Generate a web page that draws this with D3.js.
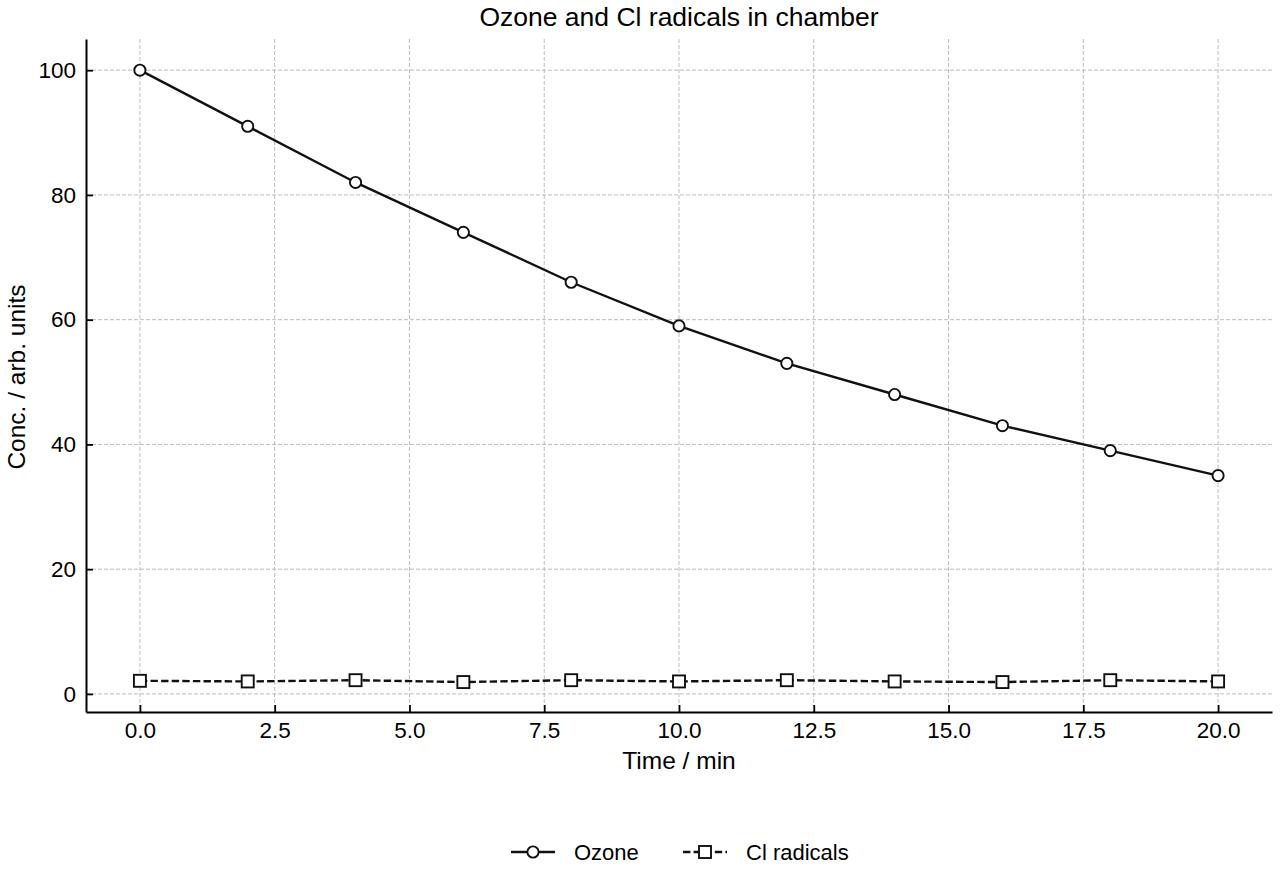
<!DOCTYPE html>
<html>
<head>
<meta charset="utf-8">
<script src="https://cdn.jsdelivr.net/npm/d3@7"></script>
<style>
  body { margin: 0; background: #fff; }
  svg text { font-family: "Liberation Sans", Arial, sans-serif; fill: #000; }
</style>
</head>
<body>
<div id="chart"></div>
<script>
// Data
const times = [0, 2, 4, 6, 8, 10, 12, 14, 16, 18, 20];
const ozone = [100, 91, 82, 74, 66, 59, 53, 48, 43, 39, 35];
const clRadicals = [2.1, 2.0, 2.2, 1.9, 2.2, 2.0, 2.2, 2.0, 1.9, 2.2, 2.0];
const xTicks = [0, 2.5, 5, 7.5, 10, 12.5, 15, 17.5, 20];
const yTicks = [0, 20, 40, 60, 80, 100];

const W = 1280, H = 880;
const margin = { top: 39, right: 8, bottom: 168, left: 86 };
const width = W - margin.left - margin.right;
const height = H - margin.top - margin.bottom;

const svg = d3.select("#chart").append("svg")
    .attr("width", W)
    .attr("height", H);

const g = svg.append("g")
    .attr("transform", `translate(${margin.left},${margin.top})`);

const x = d3.scaleLinear().domain([-1, 21]).range([0, width]);
const y = d3.scaleLinear().domain([-2.9, 105]).range([height, 0]);

// Grid
g.append("g")
    .selectAll("line.vgrid")
    .data(xTicks)
    .join("line")
    .attr("x1", d => x(d)).attr("x2", d => x(d))
    .attr("y1", 0).attr("y2", height)
    .attr("stroke", "#b4b4b4")
    .attr("stroke-width", 0.9)
    .attr("stroke-dasharray", "4,2");

g.append("g")
    .selectAll("line.hgrid")
    .data(yTicks)
    .join("line")
    .attr("x1", 0).attr("x2", width)
    .attr("y1", d => y(d)).attr("y2", d => y(d))
    .attr("stroke", "#b4b4b4")
    .attr("stroke-width", 0.9)
    .attr("stroke-dasharray", "4,2");

// Axes (ticks pointing inward)
const xAxis = g.append("g")
    .attr("transform", `translate(0,${height})`)
    .call(d3.axisBottom(x).tickValues(xTicks).tickFormat(d3.format(".1f"))
        .tickSizeInner(-7).tickSizeOuter(0).tickPadding(10));
const yAxis = g.append("g")
    .call(d3.axisLeft(y).tickValues(yTicks).tickFormat(d3.format("d"))
        .tickSizeInner(-7).tickSizeOuter(0).tickPadding(10));

[xAxis, yAxis].forEach(a => {
    a.select(".domain").attr("stroke", "#000").attr("stroke-width", 2);
    a.selectAll(".tick line").attr("stroke", "#000").attr("stroke-width", 1.8);
    a.selectAll(".tick text").style("font-size", "22.5px").attr("fill", "#000");
});

// Lines
const line = d3.line()
    .x((d, i) => x(times[i]))
    .y(d => y(d));

g.append("path")
    .datum(ozone)
    .attr("d", line)
    .attr("fill", "none")
    .attr("stroke", "#111")
    .attr("stroke-width", 2.4);

g.append("path")
    .datum(clRadicals)
    .attr("d", line)
    .attr("fill", "none")
    .attr("stroke", "#111")
    .attr("stroke-width", 2.4)
    .attr("stroke-dasharray", "7.4,3.2");

// Markers
g.append("g")
    .selectAll("circle")
    .data(ozone)
    .join("circle")
    .attr("cx", (d, i) => x(times[i]))
    .attr("cy", d => y(d))
    .attr("r", 5.6)
    .attr("fill", "#fff")
    .attr("stroke", "#111")
    .attr("stroke-width", 1.9);

const sq = 12;
g.append("g")
    .selectAll("rect")
    .data(clRadicals)
    .join("rect")
    .attr("x", (d, i) => x(times[i]) - sq / 2)
    .attr("y", d => y(d) - sq / 2)
    .attr("width", sq)
    .attr("height", sq)
    .attr("fill", "#fff")
    .attr("stroke", "#111")
    .attr("stroke-width", 1.9);

// Title and axis labels
svg.append("text")
    .attr("x", margin.left + x(10))
    .attr("y", 26)
    .attr("text-anchor", "middle")
    .style("font-size", "26.5px")
    .text("Ozone and Cl radicals in chamber");

svg.append("text")
    .attr("x", margin.left + x(10))
    .attr("y", 769)
    .attr("text-anchor", "middle")
    .style("font-size", "24.5px")
    .text("Time / min");

svg.append("text")
    .attr("transform", `translate(25,377) rotate(-90)`)
    .attr("text-anchor", "middle")
    .style("font-size", "24.5px")
    .text("Conc. / arb. units");

// Legend
const legend = svg.append("g").attr("transform", "translate(511,852)");
const items = [
    { name: "Ozone", dash: null, marker: "circle", dx: 0 },
    { name: "Cl radicals", dash: "7.4,3.2", marker: "square", dx: 172 }
];
items.forEach(it => {
    const lg = legend.append("g").attr("transform", `translate(${it.dx},0)`);
    lg.append("line")
        .attr("x1", 0).attr("x2", 44)
        .attr("stroke", "#111").attr("stroke-width", 2.4)
        .attr("stroke-dasharray", it.dash);
    if (it.marker === "circle") {
        lg.append("circle").attr("cx", 22).attr("r", 5.6)
            .attr("fill", "#fff").attr("stroke", "#111").attr("stroke-width", 1.9);
    } else {
        lg.append("rect").attr("x", 22 - sq / 2).attr("y", -sq / 2)
            .attr("width", sq).attr("height", sq)
            .attr("fill", "#fff").attr("stroke", "#111").attr("stroke-width", 1.9);
    }
    lg.append("text")
        .attr("x", 63).attr("y", 8)
        .style("font-size", "22px")
        .text(it.name);
});
</script>
</body>
</html>
